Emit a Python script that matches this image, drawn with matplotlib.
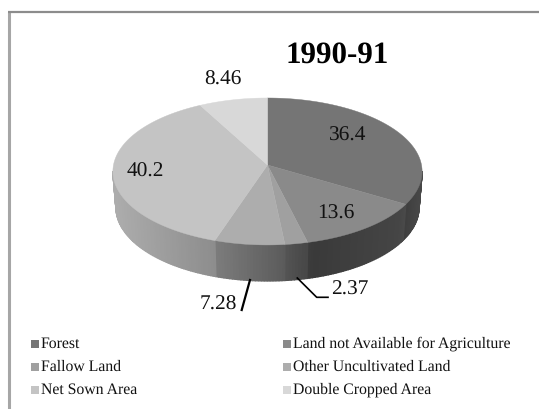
import numpy as np
import matplotlib
matplotlib.use("Agg")
import matplotlib.pyplot as plt
from matplotlib.patches import Polygon

categories = ["Forest", "Land not Available for Agriculture", "Fallow Land",
              "Other Uncultivated Land", "Net Sown Area", "Double Cropped Area"]
values = [36.4, 13.6, 2.37, 7.28, 40.2, 8.46]
value_labels = ["36.4", "13.6", "2.37", "7.28", "40.2", "8.46"]
greys = ["#757575", "#8a8a8a", "#a0a0a0", "#adadad", "#c4c4c4", "#d8d8d8"]

# pie geometry in pixels
cx, cy = 267.5, 165
sx, sy = 154, 72.9
persp = 0.088
depth = 36
shrink = 0.98


def project(theta):
    # theta clockwise from 12 o'clock, tilted disc with a bit of perspective
    u = np.sin(theta)
    v = np.cos(theta)
    w = 1 + persp * v
    return cx + sx * u / w, cy - sy * v / w


def wall_shade(xn):
    # darker towards lower right, like the lit side of the 3D pie
    return np.interp(xn, [-1, -0.35, 0.1, 0.3, 0.85, 1], [0.88, 0.72, 0.53, 0.42, 0.5, 0.62])


plt.rcParams["font.family"] = ["Liberation Serif", "DejaVu Serif"]
plt.rcParams["text.hinting"] = "none"
fig = plt.figure(figsize=(5.39, 4.09), dpi=100)
ax = fig.add_axes([0, 0, 1, 1])
ax.set_xlim(0, 539)
ax.set_ylim(409, 0)
ax.axis("off")

# frame, only left and top are really visible
ax.plot([9, 9], [409, 12], color="#a6a6a6", lw=2.2, solid_capstyle="butt")
ax.plot([8, 539], [12, 12], color="#8c8c8c", lw=1.6, solid_capstyle="butt")

edges = np.cumsum([0] + values) / sum(values) * 2 * np.pi

# side wall first, only the front part shows
for i, col in enumerate(greys):
    t = np.linspace(edges[i], edges[i + 1], max(int((edges[i + 1] - edges[i]) * 60), 2))
    base = int(col[1:3], 16) / 255
    for a, b in zip(t[:-1], t[1:]):
        if np.cos((a + b) / 2) > -persp:
            continue
        xa, ya = project(a)
        xb, yb = project(b)
        shade = str(base * wall_shade(((xa + xb) / 2 - cx) / sx))
        ax.fill([xa, xb, cx + (xb - cx) * shrink, cx + (xa - cx) * shrink],
                [ya, yb, yb + depth, ya + depth], fc=shade, ec=shade, lw=1.0)

# top face
for i, col in enumerate(greys):
    t = np.linspace(edges[i], edges[i + 1], 120)
    x, y = project(t)
    pts = np.column_stack([np.r_[cx, x], np.r_[cy, y]])
    ax.add_patch(Polygon(pts, fc=col, ec=col, lw=0.3))

# data labels
label_pos = [(348, 136), (336, 214), (350, 290), (218, 305), (145, 172), (223, 80)]
for s, (lx, ly) in zip(value_labels, label_pos):
    ax.text(lx, ly, s, fontsize=15.4, color="#111111", ha="center", va="center")

# leader lines
ax.plot([250, 241.7], [280, 310], color="black", lw=1.6)
ax.plot([297.3, 316.7, 328], [278, 297.3, 297.3], color="black", lw=1.2)

ax.text(337, 55, "1990-91", fontsize=22.3, fontweight="bold", ha="center", va="center")

# legend
leg_x = [31, 283]
leg_y = [344, 367, 390]
for i, name in enumerate(categories):
    lx = leg_x[i % 2]
    ly = leg_y[i // 2]
    ax.fill([lx, lx + 8, lx + 8, lx], [ly - 4, ly - 4, ly + 4, ly + 4], fc=greys[i], ec="none")
    ax.text(lx + 10, ly, name, fontsize=11.3, color="#111111", ha="left", va="center")

fig.savefig("out.png", dpi=100)
